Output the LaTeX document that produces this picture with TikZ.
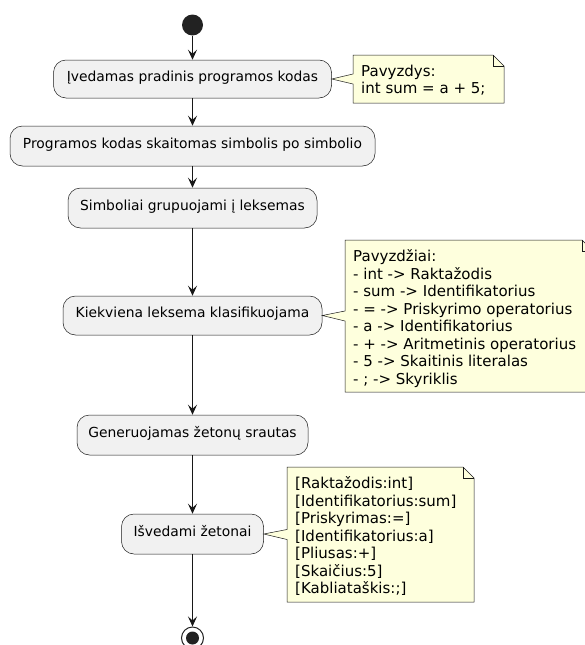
\documentclass[tikz,border=0pt]{standalone}
\usepackage{fontspec}
\setmainfont{DejaVu Sans}
\usetikzlibrary{arrows.meta,calc}
\definecolor{linecol}{HTML}{181818}
\definecolor{actfill}{HTML}{F1F1F1}
\definecolor{notefill}{HTML}{FEFFDD}
\definecolor{dotcol}{HTML}{222222}
\begin{document}
\begin{tikzpicture}[x=1pt,y=-1pt,
  action/.style={draw=linecol, line width=0.5pt, fill=actfill, rounded corners=12.5pt,
    inner sep=0pt, font=\fontsize{13.85}{16}\selectfont, text height=0.72em, text depth=0.28em},
  flow/.style={draw=linecol, line width=1pt, -{Stealth[length=10pt,width=9pt,inset=4pt]}},
  noteframe/.style={draw=linecol, line width=0.5pt, fill=notefill, line join=miter},
  notearea/.style={inner sep=0pt, outer sep=0pt},
  notetext/.style={anchor=north west, inner sep=0pt, align=left,
    font=\fontsize{15}{17.5}\selectfont}
]
\useasboundingbox (0,0) rectangle (584,645);

% start and end markers
\node[circle, fill=dotcol, minimum size=21pt, inner sep=0pt] (start) at (192.5,25) {};
\node[circle, draw=dotcol, line width=1pt, fill=white, minimum size=22pt, inner sep=0pt] (stop) at (192.5,638) {};
\node[circle, fill=dotcol, minimum size=13pt, inner sep=0pt] (stopdot) at (stop.center) {};

% actions
\node[action, minimum width=278pt, minimum height=38pt] (a1) at (192.5,79) {Įvedamas pradinis programos kodas};
\node[action, minimum width=365pt, minimum height=40pt] (a2) at (192.5,146) {Programos kodas skaitomas simbolis po simbolio};
\node[action, minimum width=249pt, minimum height=40pt] (a3) at (192.5,208) {Simboliai grupuojami į leksemas};
\node[action, minimum width=259pt, minimum height=39pt] (a4) at (192.5,315.5) {Kiekviena leksema klasifikuojama};
\node[action, minimum width=231pt, minimum height=40pt] (a5) at (192.5,435) {Generuojamas žetonų srautas};
\node[action, minimum width=142pt, minimum height=40pt] (a6) at (192.5,534) {Išvedami žetonai};

% control flow
\draw[flow] (start) -- (a1);
\draw[flow] (a1) -- (a2);
\draw[flow] (a2) -- (a3);
\draw[flow] (a3) -- (a4);
\draw[flow] (a4) -- (a5);
\draw[flow] (a5) -- (a6);
\draw[flow] (a6) -- (stop);

% note areas
\node[notearea, minimum width=151pt, minimum height=48pt] (n1) at (428.5,79) {};
\node[notearea, minimum width=248pt, minimum height=152pt] (n2) at (469,316) {};
\node[notearea, minimum width=187pt, minimum height=135pt] (n3) at (380.5,534.5) {};

% note outlines with folded corner and pointer
\foreach \n/\a in {n1/a1, n2/a4, n3/a6} {
  \draw[noteframe] (\n.north west) -- ($(\n.north east)+(-11,0)$) -- ($(\n.north east)+(0,11)$)
    -- (\n.south east) -- (\n.south west) -- ($(\n.west)+(0,5)$) -- (\a.east)
    -- ($(\n.west)+(0,-5)$) -- cycle;
  \draw[noteframe, fill=none] ($(\n.north east)+(-11,0)$) -- ($(\n.north east)+(-11,11)$)
    -- ($(\n.north east)+(0,11)$);
}

% note texts
\node[notetext] (n1t) at ($(n1.north west)+(8,9.5)$) {Pavyzdys:\\int sum = a + 5;};
\node[notetext] (n2t) at ($(n2.north west)+(8,9.5)$) {Pavyzdžiai:\\- int -> Raktažodis\\- sum -> Identifikatorius\\- = -> Priskyrimo operatorius\\- a -> Identifikatorius\\- + -> Aritmetinis operatorius\\- 5 -> Skaitinis literalas\\- ; -> Skyriklis};
\node[notetext] (n3t) at ($(n3.north west)+(8,9.5)$) {{[}Raktažodis:int]\\{[}Identifikatorius:sum]\\{[}Priskyrimas:=]\\{[}Identifikatorius:a]\\{[}Pliusas:+]\\{[}Skaičius:5]\\{[}Kabliataškis:;]};
\end{tikzpicture}
\end{document}
